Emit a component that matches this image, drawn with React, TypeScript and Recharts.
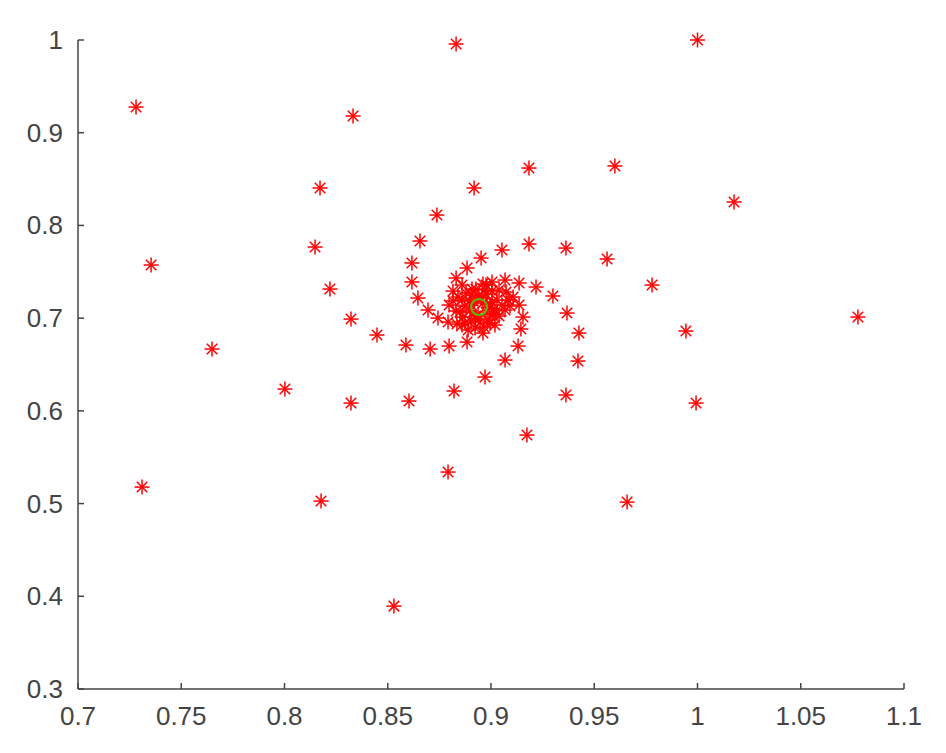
import React from 'react';
import { ScatterChart, Scatter, XAxis, YAxis } from 'recharts';

const xTicks = [0.7, 0.75, 0.8, 0.85, 0.9, 0.95, 1, 1.05, 1.1];
const yTicks = [0.3, 0.4, 0.5, 0.6, 0.7, 0.8, 0.9, 1];

// outer, sparse iterates
const outerPoints: [number, number][] = [
  [1.0, 1.0], [0.8831, 0.9957], [0.7281, 0.9277], [0.8332, 0.918],
  [0.96, 0.8641], [0.9184, 0.8619], [0.8172, 0.8404], [0.8918, 0.8404],
  [1.0177, 0.8253], [0.8738, 0.8112], [0.7354, 0.7573], [0.8148, 0.7767],
  [0.8656, 0.7832], [0.9184, 0.7799], [0.9363, 0.7756], [0.9562, 0.7638],
  [0.9053, 0.7735], [0.822, 0.7314], [0.978, 0.7357], [1.0777, 0.7012],
  [0.9944, 0.6861], [0.8322, 0.699], [0.8448, 0.6818], [0.8588, 0.671],
  [0.8705, 0.6667], [0.7649, 0.6667], [0.8002, 0.6235], [0.8322, 0.6084],
  [0.8603, 0.6106], [0.8821, 0.6214], [0.8971, 0.6365], [0.9068, 0.6548],
  [0.9131, 0.6699], [0.9993, 0.6084], [0.9363, 0.6171], [0.9421, 0.6537],
  [0.9426, 0.6839], [0.9368, 0.7055], [0.93, 0.7239], [0.9218, 0.7336],
  [0.731, 0.5178], [0.8177, 0.5027], [0.8792, 0.534], [0.9174, 0.5739],
  [0.9659, 0.5016], [0.853, 0.3894],
];

// spiral arms approaching the core
const armPoints: [number, number][] = [
  [0.8617, 0.7595], [0.8617, 0.739], [0.8646, 0.7217], [0.8695, 0.7088],
  [0.8743, 0.7001], [0.8792, 0.6958], [0.8797, 0.6699], [0.8884, 0.6742],
  [0.8961, 0.6839], [0.9145, 0.6883], [0.9155, 0.7012], [0.9136, 0.7379],
  [0.9068, 0.7411], [0.9005, 0.739], [0.8952, 0.7648], [0.8884, 0.7541],
  [0.8831, 0.7433],
];

// dense core around the fixed point
const corePoints: [number, number][] = [
  [0.8995, 0.6947], [0.9005, 0.7044], [0.8995, 0.7109], [0.8981, 0.7152], [0.8961, 0.7163],
  [0.8835, 0.6936], [0.8874, 0.6947], [0.8903, 0.6969], [0.8923, 0.7001], [0.8937, 0.7034],
  [0.9136, 0.7141], [0.9107, 0.7228], [0.9073, 0.7282], [0.9039, 0.7303], [0.9005, 0.7292],
  [0.8976, 0.726], [0.8956, 0.7217],
  [0.8961, 0.7368], [0.8927, 0.7314], [0.8908, 0.7249], [0.8898, 0.7185], [0.8903, 0.7141],
  [0.8816, 0.7292], [0.8816, 0.7185], [0.8831, 0.7077], [0.8864, 0.7012], [0.8927, 0.7023],
  [0.886, 0.7195], [0.8879, 0.7271], [0.885, 0.7066], [0.8985, 0.698], [0.9029, 0.7044],
  [0.9053, 0.7141], [0.9068, 0.7088], [0.8923, 0.6893], [0.8889, 0.6872], [0.8971, 0.7303],
  [0.8937, 0.7239], [0.8918, 0.7174], [0.8976, 0.7066], [0.8947, 0.6958], [0.8797, 0.7141],
  [0.9019, 0.6926], [0.886, 0.7357], [0.9029, 0.7195], [0.9082, 0.7195],
  [0.884, 0.7228], [0.8874, 0.7131], [0.8898, 0.7077], [0.9005, 0.7174], [0.9015, 0.7098],
  [0.8976, 0.7357], [0.8908, 0.7314], [0.9039, 0.7023], [0.886, 0.6926], [0.8966, 0.6904],
  [0.9092, 0.7131],
];

const fixedPoint: [number, number][] = [[0.8942, 0.712]];

const toData = (pts: [number, number][]) => pts.map(([x, y]) => ({ x, y }));
const redData = [...toData(outerPoints), ...toData(armPoints), ...toData(corePoints)];
const greenData = toData(fixedPoint);

const AXIS = '#444444';
const FONT = '"Liberation Sans", Arial, Helvetica, sans-serif';
const fmt = (v: number) => Number(v.toFixed(2)).toString();

const XTick = (props: any) => {
  const { x, y, payload } = props;
  return (
    <g>
      <line x1={x} x2={x} y1={y} y2={y - 6} stroke={AXIS} strokeWidth={1.5} />
      <text x={x} y={y + 36} textAnchor="middle" fontSize={26} fill={AXIS} fontFamily={FONT}>
        {fmt(payload.value)}
      </text>
    </g>
  );
};

const YTick = (props: any) => {
  const { x, y, payload } = props;
  return (
    <g>
      <line x1={x} x2={x + 6} y1={y} y2={y} stroke={AXIS} strokeWidth={1.5} />
      <text x={x - 15} y={y + 9} textAnchor="end" fontSize={26} fill={AXIS} fontFamily={FONT}>
        {fmt(payload.value)}
      </text>
    </g>
  );
};

const Asterisk = (props: any) => {
  const { cx, cy } = props;
  const r = 7.5;
  const d = r * 0.7;
  return (
    <g stroke="#ff0000" strokeWidth={1.5}>
      <line x1={cx} y1={cy - r} x2={cx} y2={cy + r} />
      <line x1={cx - r} y1={cy} x2={cx + r} y2={cy} />
      <line x1={cx - d} y1={cy - d} x2={cx + d} y2={cy + d} />
      <line x1={cx - d} y1={cy + d} x2={cx + d} y2={cy - d} />
    </g>
  );
};

const Ring = (props: any) => {
  const { cx, cy } = props;
  return <circle cx={cx} cy={cy} r={8} fill="none" stroke="#55c000" strokeWidth={2} />;
};

export default function App() {
  return (
    <ScatterChart
      width={930}
      height={737}
      margin={{ top: 32, right: 34, bottom: 26, left: 10 }}
    >
      <XAxis
        type="number"
        dataKey="x"
        domain={[0.7, 1.1]}
        ticks={xTicks}
        height={30}
        tickSize={0}
        tickMargin={0}
        tickLine={false}
        axisLine={{ stroke: AXIS, strokeWidth: 1.5 }}
        tick={<XTick />}
        interval={0}
      />
      <YAxis
        type="number"
        dataKey="y"
        domain={[0.3, 1]}
        ticks={yTicks}
        width={60}
        tickSize={0}
        tickMargin={0}
        tickLine={false}
        axisLine={{ stroke: AXIS, strokeWidth: 1.5 }}
        tick={<YTick />}
        interval={0}
      />
      <Scatter data={redData} shape={<Asterisk />} isAnimationActive={false} />
      <Scatter data={greenData} shape={<Ring />} isAnimationActive={false} />
    </ScatterChart>
  );
}
